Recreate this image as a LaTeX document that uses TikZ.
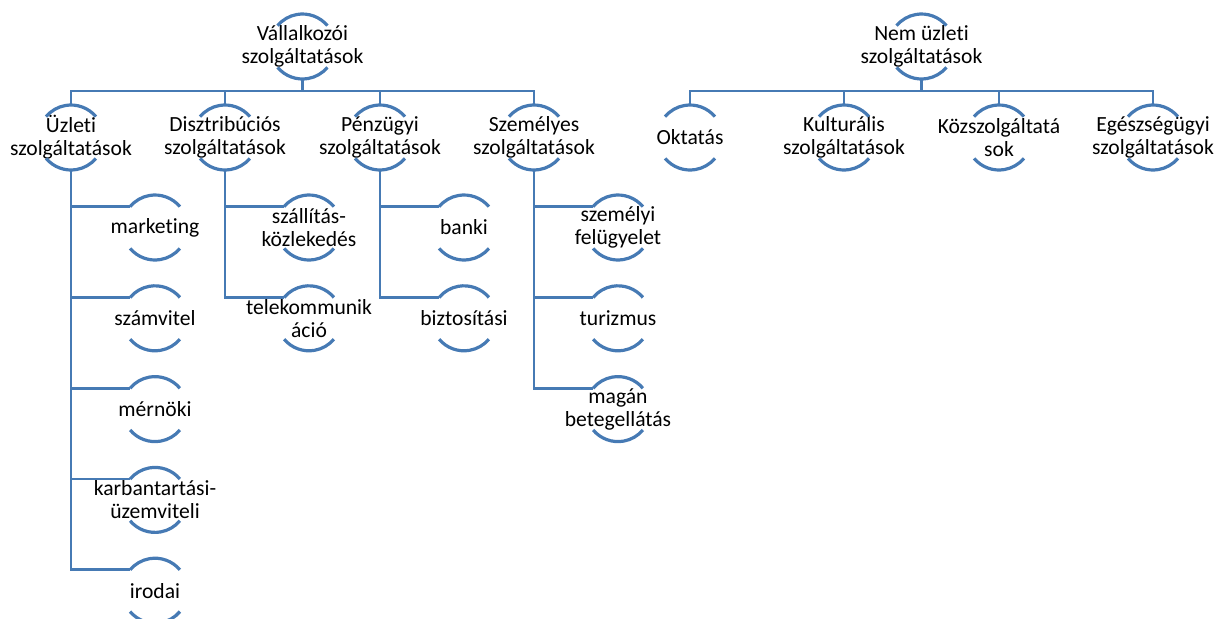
\documentclass[tikz,border=0pt]{standalone}
\usepackage{fontspec}
\setmainfont{Carlito}[Ligatures=NoCommon]
\usetikzlibrary{positioning}
\definecolor{arcblue}{RGB}{70,122,180}
\tikzset{
  treeline/.style={draw=arcblue, line width=1.45pt},
  arcline/.style={draw=arcblue, line width=1.6pt},
  nodetext/.style={font=\fontsize{10.8}{11.4}\selectfont, align=center, inner sep=0pt},
  arcnode/.style={circle, minimum size=32.5pt, inner sep=0pt, outer sep=0pt, label={[nodetext]center:#1}}
}
\begin{document}
\begin{tikzpicture}[x=0.5pt, y=0.5pt]
\useasboundingbox (0,0) rectangle (1217,-618);
\clip (0,0) rectangle (1217,-618);

% Vallalkozoi szolgaltatasok
\node (v_root) at (302.5,-46.5) [arcnode={Vállalkozói\\szolgáltatások}] {};
\node (v_uzleti) [arcnode={Üzleti\\szolgáltatások}, below=13pt of v_root, xshift=-115.75pt] {};
\node (v_disz) [arcnode={Disztribúciós\\szolgáltatások}, below=13pt of v_root, xshift=-38.75pt] {};
\node (v_penz) [arcnode={Pénzügyi\\szolgáltatások}, below=13pt of v_root, xshift=38.75pt] {};
\node (v_szem) [arcnode={Személyes\\szolgáltatások}, below=13pt of v_root, xshift=115.75pt] {};

\node (u_marketing) [arcnode=marketing, below=12.5pt of v_uzleti, xshift=42pt] {};
\node (u_szamvitel) [arcnode=számvitel, below=12.9pt of u_marketing] {};
\node (u_mernoki) [arcnode=mérnöki, below=12.9pt of u_szamvitel] {};
\node (u_karb) [arcnode={karbantartási-\\üzemviteli}, below=12.9pt of u_mernoki] {};
\node (u_irodai) [arcnode=irodai, below=12.9pt of u_karb] {};

\node (d_szall) [arcnode={szállítás-\\közlekedés}, below=12.5pt of v_disz, xshift=42pt] {};
\node (d_telek) [arcnode={telekommunik\\áció}, below=12.9pt of d_szall] {};

\node (p_banki) [arcnode=banki, below=12.5pt of v_penz, xshift=42pt] {};
\node (p_bizt) [arcnode=biztosítási, below=12.9pt of p_banki] {};

\node (s_felugy) [arcnode={személyi\\felügyelet}, below=12.5pt of v_szem, xshift=42pt] {};
\node (s_turizmus) [arcnode=turizmus, below=12.9pt of s_felugy] {};
\node (s_magan) [arcnode={magán\\betegellátás}, below=12.9pt of s_turizmus] {};

% Nem uzleti szolgaltatasok
\node (n_root) at (921.5,-46.5) [arcnode={Nem üzleti\\szolgáltatások}] {};
\node (n_okt) [arcnode=Oktatás, below=13pt of n_root, xshift=-115.75pt] {};
\node (n_kult) [arcnode={Kulturális\\szolgáltatások}, below=13pt of n_root, xshift=-38.75pt] {};
\node (n_kozsz) [arcnode={Közszolgáltatá\\sok}, below=13pt of n_root, xshift=38.75pt] {};
\node (n_egesz) [arcnode={Egészségügyi\\szolgáltatások}, below=13pt of n_root, xshift=115.75pt] {};

\foreach \n in {v_root,v_uzleti,v_disz,v_penz,v_szem,u_marketing,u_szamvitel,u_mernoki,u_karb,u_irodai,d_szall,d_telek,p_banki,p_bizt,s_felugy,s_turizmus,s_magan,n_root,n_okt,n_kult,n_kozsz,n_egesz} {
  \draw [arcline] (\n.40) arc[start angle=40, end angle=140, radius=16.25pt];
  \draw [arcline] (\n.220) arc[start angle=220, end angle=320, radius=16.25pt];
}

\draw [treeline, to path={-- ++(0,-12) -| (\tikztotarget)}] (v_root.south) edge (v_uzleti.north) edge (v_disz.north) edge (v_penz.north) edge (v_szem.north);
\draw [treeline, to path={-- ++(0,-12) -| (\tikztotarget)}] (n_root.south) edge (n_okt.north) edge (n_kult.north) edge (n_kozsz.north) edge (n_egesz.north);

\draw [treeline, to path={|- (\tikztotarget)}] (v_uzleti.south) edge (u_marketing.140) edge (u_szamvitel.140) edge (u_mernoki.140) edge (u_karb.140) edge (u_irodai.140);
\draw [treeline, to path={|- (\tikztotarget)}] (v_disz.south) edge (d_szall.140) edge (d_telek.140);
\draw [treeline, to path={|- (\tikztotarget)}] (v_penz.south) edge (p_banki.140) edge (p_bizt.140);
\draw [treeline, to path={|- (\tikztotarget)}] (v_szem.south) edge (s_felugy.140) edge (s_turizmus.140) edge (s_magan.140);

\end{tikzpicture}
\end{document}
